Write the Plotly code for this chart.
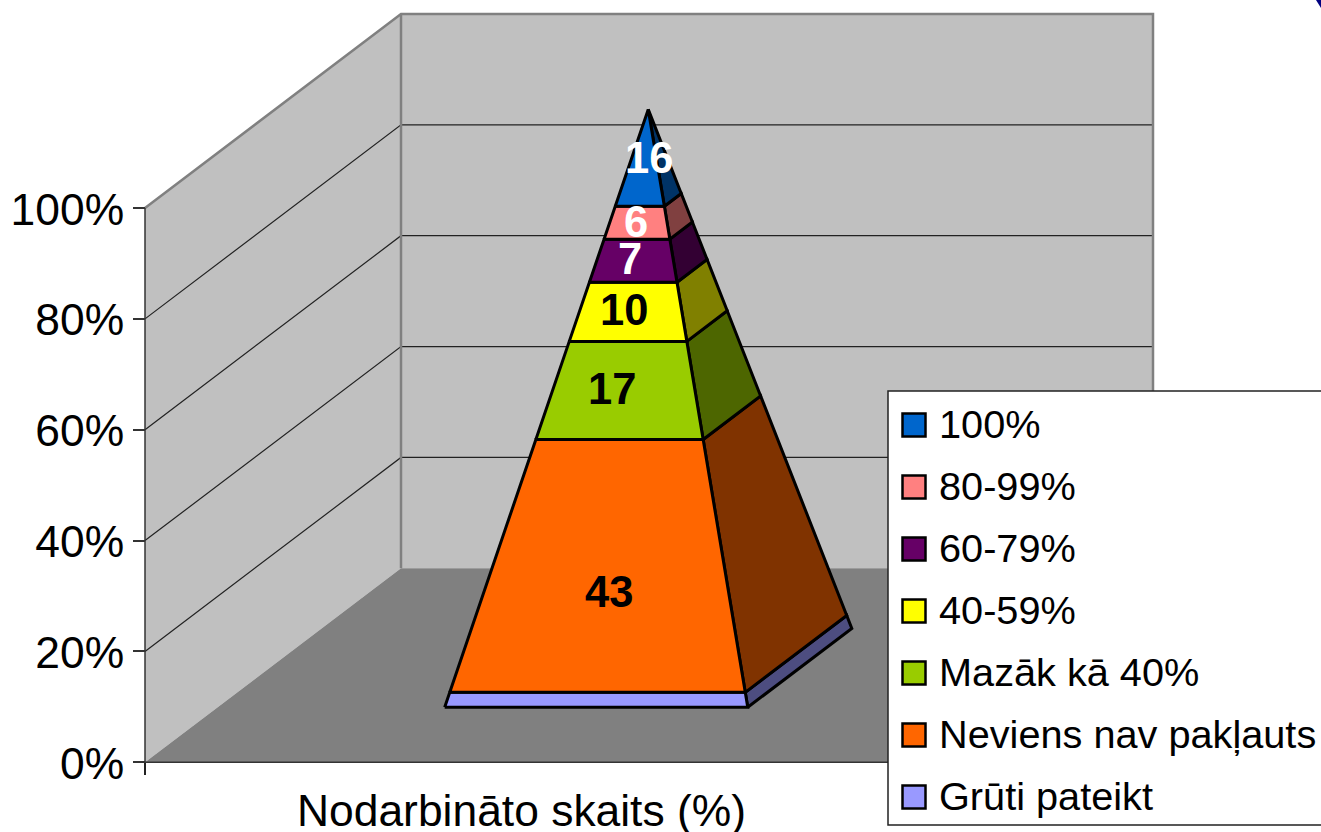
import plotly.graph_objects as go

# ---- data ----
categories = ["Grūti pateikt", "Neviens nav pakļauts", "Mazāk kā 40%", "40-59%", "60-79%", "80-99%", "100%"]
values = [2.5, 42.3, 16.4, 9.9, 7.2, 5.5, 16.2]
value_labels = ["", "43", "17", "10", "7", "6", "16"]
front_colors = ["#9999FF", "#FF6600", "#99CC00", "#FFFF00", "#660066", "#FF8080", "#0066CC"]
side_colors = ["#4D4D80", "#803300", "#4D6600", "#808000", "#330033", "#804040", "#003366"]
label_colors = ["#000000", "#000000", "#000000", "#000000", "#FFFFFF", "#FFFFFF", "#FFFFFF"]
label_nudge_x = [0, 0, -12, -7, -5, -2, 5]
label_nudge_y = [0, -26, 1, 2, 2, 1, 0]
y_ticks = [0, 20, 40, 60, 80, 100]
y_tick_text = ["0%", "20%", "40%", "60%", "80%", "100%"]
axis_label = "Nodarbināto skaits (%)"

# ---- layout geometry ----
W, H = 1321, 832
PX0, PY0 = 145, 762.3        # origin of front floor corner, pixels
X_SPAN, Y_SPAN = 752, 554.3  # pixels for x 0..1 and y 0..100
DX = 256 / X_SPAN            # oblique depth vector in axis units
DY = 194 / Y_SPAN * 100
FONT = "Liberation Sans, Arial, sans-serif"

# pyramid footprint in (x, depth) axis units
BX0, BX1 = 0.302, 0.705
BD0, BD1 = 0.2835, 0.69
XC, DC = (BX0 + BX1) / 2, (BD0 + BD1) / 2
APEX_SCALE = 1.0075


def proj(x, y, d):
    return x + d * DX, y + d * DY


def edge(x, d, c):
    """Point on the pyramid edge from base corner (x, d) to the apex at cumulative share c."""
    t = c / 100
    return proj(x + (XC - x) * t, c * APEX_SCALE, d + (DC - d) * t)


def poly(points, fill, line=None, width=0, close=True):
    xs = [p[0] for p in points]
    ys = [p[1] for p in points]
    if close:
        xs.append(xs[0])
        ys.append(ys[0])
    return go.Scatter(
        x=xs, y=ys, mode="lines", fill="toself" if fill else "none", fillcolor=fill,
        line=dict(color=line or "rgba(0,0,0,0)", width=width), showlegend=False, hoverinfo="skip",
    )


fig = go.Figure()

# walls and floor
fig.add_trace(poly([proj(0, 0, 0), proj(0, 100, 0), proj(0, 100, 1), proj(0, 0, 1)], "#C0C0C0"))
fig.add_trace(poly([proj(0, 0, 1), proj(0, 100, 1), proj(1, 100, 1), proj(1, 0, 1)], "#C0C0C0"))
fig.add_trace(poly([proj(0, 0, 0), proj(0, 0, 1), proj(1, 0, 1), proj(1, 0, 0)], "#808080"))

# gridlines
for v in y_ticks[1:-1]:
    fig.add_trace(poly([proj(0, v, 0), proj(0, v, 1), proj(1, v, 1)], None, "#222222", 1.2, close=False))

# wall borders
fig.add_trace(poly([proj(0, 100, 0), proj(0, 100, 1), proj(1, 100, 1), proj(1, 0, 1)], None, "#808080", 2.5, close=False))
fig.add_trace(poly([proj(0, 100, 1), proj(0, 0, 1)], None, "#808080", 2.5, close=False))

# front axis lines
fig.add_trace(poly([proj(0, 0, 0), proj(0, 100, 0)], None, "#333333", 1.5, close=False))
fig.add_trace(poly([proj(0, 0, 0), proj(1, 0, 0)], None, "#333333", 1.5, close=False))

# pyramid segments, bottom to top
annotations = []
cum = 0
for i, v in enumerate(values):
    lo, hi = cum, cum + v
    fig.add_trace(poly([edge(BX1, BD0, lo), edge(BX1, BD1, lo), edge(BX1, BD1, hi), edge(BX1, BD0, hi)],
                       side_colors[i], "#000000", 3))
    fig.add_trace(poly([edge(BX0, BD0, lo), edge(BX1, BD0, lo), edge(BX1, BD0, hi), edge(BX0, BD0, hi)],
                       front_colors[i], "#000000", 3))
    if value_labels[i]:
        mid = (lo + hi) / 2
        a = edge(BX0, BD0, mid)
        b = edge(BX1, BD0, mid)
        annotations.append(dict(
            x=(a[0] + b[0]) / 2, y=a[1], xref="x", yref="y", text="<b>" + value_labels[i] + "</b>",
            showarrow=False, xshift=label_nudge_x[i], yshift=label_nudge_y[i],
            font=dict(family=FONT, size=43.5, color=label_colors[i]),
            xanchor="center", yanchor="middle",
        ))
    cum = hi

# axis category label
annotations.append(dict(x=0.5, xref="x", y=1 - 810 / H, yref="paper", text=axis_label, showarrow=False,
                        xanchor="center", yanchor="middle", font=dict(family=FONT, size=44.4, color="#000000")))

# legend box, swatches and texts
shapes = [
    dict(type="rect", xref="paper", yref="paper", x0=888 / W, x1=1340 / W, y0=1 - 825 / H, y1=1 - 391 / H,
         fillcolor="#FFFFFF", line=dict(color="#222222", width=1.5)),
    dict(type="path", xref="paper", yref="paper", fillcolor="#000080", line=dict(width=0),
         path=f"M {1316/W} 1 L {1321/W} 1 L {1321/W} {1-8/H} Z"),
]
for k, i in enumerate(reversed(range(len(categories)))):
    cy = 425 + 62 * k
    shapes.append(dict(type="rect", xref="paper", yref="paper", x0=902.5 / W, x1=925.5 / W,
                       y0=1 - (cy + 11.5) / H, y1=1 - (cy - 11.5) / H,
                       fillcolor=front_colors[i], line=dict(color="#000000", width=2.5)))
    annotations.append(dict(x=937 / W, y=1 - (cy - 1) / H, xref="paper", yref="paper", text=categories[i],
                            showarrow=False, xanchor="left", yanchor="middle",
                            font=dict(family=FONT, size=39.7, color="#000000")))

fig.update_layout(
    width=W, height=H, margin=dict(l=0, r=0, t=0, b=0), paper_bgcolor="#FFFFFF", plot_bgcolor="#FFFFFF",
    showlegend=False, shapes=shapes, annotations=annotations,
    xaxis=dict(range=[(0 - PX0) / X_SPAN, (W - PX0) / X_SPAN], domain=[0, 1], anchor="free",
               position=1 - PY0 / H, showgrid=False, zeroline=False, showline=False, automargin=False,
               tickmode="array", tickvals=[], ticks="", showticklabels=False,
               minor=dict(tickmode="array", tickvals=[0, 1], ticks="outside", ticklen=12, tickcolor="#222222", tickwidth=1.5)),
    yaxis=dict(range=[(PY0 - H) / Y_SPAN * 100, PY0 / Y_SPAN * 100], domain=[0, 1], anchor="free",
               position=PX0 / W, showgrid=False, zeroline=False, showline=False, automargin=False,
               tickmode="array", tickvals=y_ticks, ticktext=y_tick_text, ticks="outside", ticklen=12,
               tickcolor="#333333", tickwidth=1.5, ticklabelshift=1,
               tickfont=dict(family=FONT, size=44.4, color="#000000")),
)

fig.write_html("out.html", config=dict(displayModeBar=False),
               post_script="document.body.style.margin='0';document.body.style.overflow='hidden';")
